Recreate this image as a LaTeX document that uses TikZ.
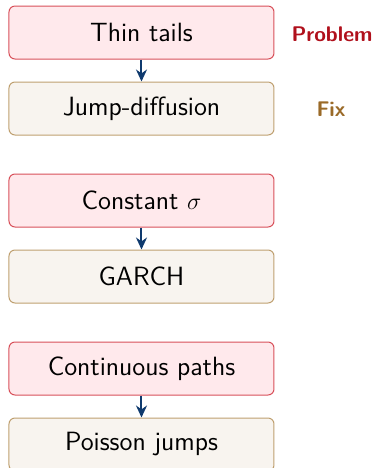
\documentclass[tikz,border=0pt]{standalone}
\usepackage{xcolor}
\usetikzlibrary{positioning,arrows.meta}

\definecolor{probfill}{HTML}{FFE9EC}
\definecolor{probdraw}{HTML}{D8505A}
\definecolor{probtext}{HTML}{B0101C}
\definecolor{fixfill}{HTML}{F8F4EF}
\definecolor{fixdraw}{HTML}{BFA070}
\definecolor{fixtext}{HTML}{9A6A28}
\definecolor{arrowblue}{HTML}{0F3A6E}

\tikzset{
  probbox/.style={draw=probdraw, fill=probfill, rectangle, rounded corners=3pt, line width=0.5pt,
    minimum width=132.5pt, minimum height=26.5pt, font=\sffamily\fontsize{13.2}{15}\selectfont},
  fixbox/.style={draw=fixdraw, fill=fixfill, rectangle, rounded corners=3pt, line width=0.5pt,
    minimum width=132.5pt, minimum height=26.5pt, font=\sffamily\fontsize{13.2}{15}\selectfont},
  fixarrow/.style={-{Stealth[length=6pt,width=5.5pt]}, line width=1pt, draw=arrowblue}
}

\begin{document}
\begin{tikzpicture}
  \useasboundingbox (0,0) rectangle (186.5pt,-234pt);

  \node[probbox] (tails) at (70.75pt,-16.25pt) {Thin tails};
  \node[fixbox, below=11pt of tails] (jump) {Jump-diffusion};
  \node[probbox, below=19pt of jump] (const) {Constant $\sigma$};
  \node[fixbox, below=11pt of const] (garch) {GARCH};
  \node[probbox, below=19pt of garch] (cont) {Continuous paths};
  \node[fixbox, below=11pt of cont] (poisson) {Poisson jumps};

  \node[text=probtext, font=\sffamily\bfseries\fontsize{10.6}{12}\selectfont] (problem) at (166pt,-17pt) {Problem};
  \node[text=fixtext, font=\sffamily\bfseries\fontsize{10.6}{12}\selectfont] (fix) at (165.5pt,-54.5pt) {Fix};

  \draw[fixarrow] (tails) -- (jump);
  \draw[fixarrow] (const) -- (garch);
  \draw[fixarrow] (cont) -- (poisson);
\end{tikzpicture}
\end{document}
